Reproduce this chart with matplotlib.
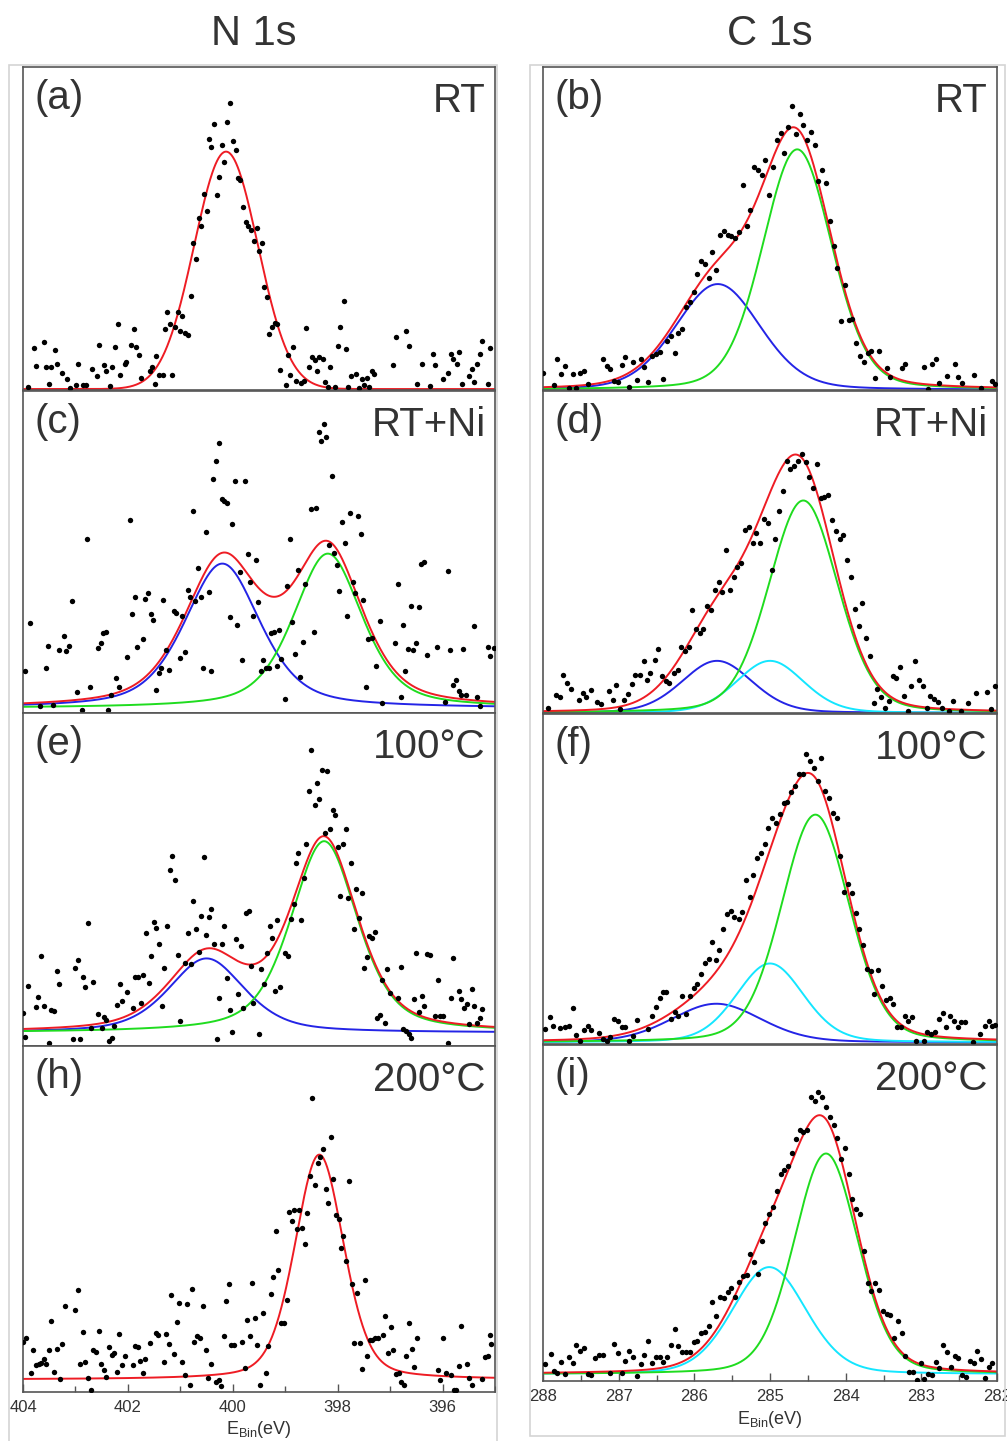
import numpy as np
import matplotlib
matplotlib.use("Agg")
import matplotlib.pyplot as plt
from matplotlib.patches import Rectangle

plt.rcParams['font.family'] = ['Liberation Sans', 'DejaVu Sans']
plt.rcParams['mathtext.fontset'] = 'custom'
plt.rcParams['mathtext.rm'] = 'Liberation Sans'

W, H = 1007, 1441

# ---- measured points (binding energy eV, intensity a.u.) ----
a_pts = [(403.9, 1), (403.8, 13), (403.76, 7.5), (403.6, 15), (403.56, 7), (403.5, 2), (403.46, 7),
         (403.4, 12.5), (403.35, 8), (403.26, 5.4), (403.16, 3.3), (403.1, 0.5), (403.0, 1.5), (402.96, 8),
         (402.86, 1.5), (402.8, 1.5), (402.7, 6.4), (402.6, 4.3), (402.56, 14), (402.46, 7.7), (402.42, 6),
         (402.35, 1.2), (402.31, 7), (402.26, 13.4), (402.2, 20.4), (402.17, 4.7), (402.07, 8), (402.04, 8.8),
         (401.96, 14), (401.9, 19), (401.86, 13.4), (401.8, 10.7), (401.76, 3.8), (401.6, 6), (401.56, 7.2),
         (401.5, 2), (401.47, 10.5), (401.42, 4.5), (401.35, 4.5), (401.3, 19), (401.27, 24), (401.22, 20.3),
         (401.17, 4.5), (401.12, 19.6), (401.06, 24), (401.03, 18.2), (400.98, 22.9), (400.92, 17.5),
         (400.87, 16.9), (400.82, 29), (400.77, 45.6), (400.72, 40.7), (400.67, 53.3), (400.62, 50.7),
         (400.57, 60.8), (400.52, 55.3), (400.47, 77.7), (400.43, 75.3), (400.37, 82.3), (400.33, 60.3),
         (400.28, 66), (400.23, 75.9), (400.18, 70.6), (400.13, 83), (400.08, 88.7), (400.02, 77.2),
         (399.97, 74.4), (399.93, 65.5), (399.88, 65), (399.83, 56.6), (399.78, 52), (399.73, 50.7),
         (399.68, 49.5), (399.62, 46.2), (399.57, 50.1), (399.53, 42.9), (399.47, 45.4), (399.43, 32),
         (399.38, 28.9), (399.33, 17.4), (399.28, 19.5), (399.23, 20.6), (399.18, 20.4), (399.12, 6.2),
         (399.02, 1.5), (398.98, 10.8), (398.93, 4.6), (398.88, 13.4), (398.83, 2.9), (398.73, 2.3),
         (398.68, 2.9), (398.63, 19.3), (398.58, 7.2), (398.52, 10.1), (398.47, 9.3), (398.43, 5.9),
         (398.38, 10.3), (398.32, 9.7), (398.27, 2.4), (398.22, 1), (398.18, 7), (398.08, 1), (398.03, 13.6),
         (397.98, 19.4), (397.92, 27.6), (397.88, 12.7), (397.83, 0.8), (397.78, 4.3), (397.68, 4.8),
         (397.63, 0.5), (397.58, 3.3), (397.53, 1.5), (397.48, 3.8), (397.44, 1), (397.39, 6), (397.34, 4.8),
         (396.98, 7.7), (396.93, 16.5), (396.74, 18.2), (396.69, 13.6), (396.53, 2), (396.44, 8), (396.28, 1.2),
         (396.23, 11.3), (396.18, 7.7), (396.04, 3.4), (395.94, 5.4), (395.89, 11.1), (395.84, 9.5),
         (395.78, 8), (395.73, 11.8), (395.68, 1.9), (395.54, 4.3), (395.49, 6.5), (395.44, 2.6), (395.39, 8.2),
         (395.34, 11.3), (395.29, 15.3), (395.19, 2), (395.14, 13.1)]

c_pts = [(403.97, 13), (403.87, 27.9), (403.67, 2.1), (403.57, 13.9), (403.53, 20.8), (403.43, 2.6),
         (403.32, 19.5), (403.22, 24), (403.18, 19.1), (403.13, 20.8), (403.08, 34.9), (402.97, 6.5),
         (402.88, 1), (402.78, 53.9), (402.73, 8), (402.58, 20.1), (402.53, 21.8), (402.48, 24.7),
         (402.43, 25.3), (402.38, 1), (402.33, 5.5), (402.23, 10.9), (402.18, 8), (402.03, 17.4),
         (401.98, 59.9), (401.93, 30.9), (401.88, 36.1), (401.83, 20.6), (401.73, 22.9), (401.68, 35.4),
         (401.63, 37.2), (401.58, 30.9), (401.53, 28.9), (401.48, 7.1), (401.43, 12.4), (401.38, 13.9),
         (401.34, 35.1), (401.28, 19.7), (401.23, 13.4), (401.14, 31.8), (401.09, 31), (401.03, 17),
         (400.98, 30), (400.93, 18.8), (400.88, 38.2), (400.83, 36.1), (400.78, 62.7), (400.73, 34.9),
         (400.68, 45), (400.63, 36.1), (400.58, 14.1), (400.53, 56.3), (400.48, 37.5), (400.43, 13),
         (400.39, 72.8), (400.34, 78.3), (400.28, 83.9), (400.23, 66.5), (400.18, 65.9), (400.13, 65.3),
         (400.08, 29.9), (400.03, 58.8), (399.98, 72.1), (399.94, 27.3), (399.89, 43.8), (399.84, 16.4),
         (399.79, 71.9), (399.74, 49.5), (399.69, 40.8), (399.64, 30), (399.59, 47.4), (399.54, 34.6),
         (399.49, 13), (399.44, 16.6), (399.39, 14.1), (399.34, 13.9), (399.29, 24.8), (399.24, 25.3),
         (399.19, 14.6), (399.14, 25.9), (399.1, 16.7), (399.04, 4.5), (398.99, 39.5), (398.94, 53.9),
         (398.9, 28.4), (398.84, 18.2), (398.79, 44.3), (398.75, 11.1), (398.7, 22.2), (398.65, 40.1),
         (398.54, 63.4), (398.49, 25.2), (398.44, 63.8), (398.39, 87.4), (398.35, 84.6), (398.3, 89.8),
         (398.25, 85.7), (398.2, 52.3), (398.14, 73.6), (398.1, 49.8), (398.05, 46), (398.0, 37.8),
         (397.95, 59.4), (397.9, 52.8), (397.85, 30.1), (397.8, 62), (397.75, 40.8), (397.7, 37.2),
         (397.64, 61.3), (397.59, 55.6), (397.55, 35.1), (397.5, 8.1), (397.45, 23.1), (397.39, 23.2),
         (397.3, 14.6), (397.24, 28.6), (397.19, 3.1), (396.94, 21.7), (396.89, 40.1), (396.84, 5),
         (396.79, 27.3), (396.75, 12.9), (396.7, 20), (396.65, 33.3), (396.6, 19.7), (396.55, 21.6),
         (396.5, 32.8), (396.45, 46.4), (396.4, 46.9), (396.34, 17.9), (396.15, 20.6), (396.0, 3.3),
         (395.95, 44.1), (395.9, 19.5), (395.85, 8.6), (395.79, 10.3), (395.74, 6.8), (395.69, 5.7),
         (395.65, 19.8), (395.6, 5.5), (395.45, 27.1), (395.39, 4.9), (395.34, 2.1), (395.19, 20.6),
         (395.14, 17.7), (395.07, 20.3)]

e_pts = [(404.0, 9.8), (403.97, 2.8), (403.91, 18), (403.76, 11.7), (403.72, 14.7), (403.66, 26.9),
         (403.61, 12), (403.51, 1), (403.46, 10.7), (403.41, 10.5), (403.36, 22.5), (403.31, 18.7),
         (403.06, 2.2), (403.01, 23.3), (402.96, 25.9), (402.92, 2.2), (402.87, 20.8), (402.82, 17.7),
         (402.77, 36.8), (402.72, 5.5), (402.67, 19.3), (402.57, 9.5), (402.51, 5.5), (402.47, 8.8),
         (402.42, 7.7), (402.37, 1.5), (402.32, 2.5), (402.27, 6), (402.22, 12.4), (402.17, 18.5),
         (402.12, 13.5), (402.02, 16.3), (401.92, 11.3), (401.87, 20.8), (401.82, 20.8), (401.77, 12.8),
         (401.72, 21.2), (401.67, 33.8), (401.62, 19), (401.57, 27.1), (401.52, 37.3), (401.47, 35.4),
         (401.42, 30.5), (401.37, 12), (401.32, 23.4), (401.27, 36.1), (401.22, 52.8), (401.17, 57),
         (401.12, 49.7), (401.07, 27.3), (401.02, 7.5), (400.92, 25), (400.87, 33.9), (400.82, 24.5),
         (400.77, 43.4), (400.72, 35.1), (400.67, 28.1), (400.63, 38.9), (400.57, 56.7), (400.53, 33.3),
         (400.48, 38.6), (400.43, 41.1), (400.38, 30.6), (400.33, 2), (400.28, 14.5), (400.23, 30.6),
         (400.18, 35.9), (400.13, 20.4), (400.08, 10.8), (400.03, 4.2), (399.97, 32.1), (399.92, 15.7),
         (399.87, 29.9), (399.82, 11.3), (399.77, 39.9), (399.72, 40.5), (399.68, 24), (399.63, 13),
         (399.53, 3.5), (399.48, 23.2), (399.43, 18.5), (399.37, 27.9), (399.32, 35.9), (399.28, 32.3),
         (399.23, 16.4), (399.18, 37.9), (399.13, 17.8), (399.03, 27.9), (398.98, 27.1), (398.92, 38.1),
         (398.87, 42.5), (398.82, 55.1), (398.78, 57.9), (398.73, 37.9), (398.68, 50.4), (398.63, 60.8),
         (398.58, 76.6), (398.53, 89), (398.47, 72.3), (398.43, 79), (398.38, 74.1), (398.33, 82.8),
         (398.28, 64.1), (398.23, 82.7), (398.18, 65.3), (398.13, 70.9), (398.08, 69.4), (398.03, 59.8),
         (397.98, 45.1), (397.93, 60.8), (397.88, 65.3), (397.83, 44.5), (397.78, 54.9), (397.73, 35.1),
         (397.68, 47.1), (397.63, 38.3), (397.58, 45.8), (397.53, 23.4), (397.48, 26.6), (397.43, 32.9),
         (397.38, 32.3), (397.33, 34.1), (397.29, 8.3), (397.24, 9.2), (397.19, 19.8), (397.14, 7),
         (397.09, 23), (397.04, 15.8), (396.89, 14.4), (396.84, 23.7), (396.79, 5), (396.74, 4.5),
         (396.69, 3.5), (396.64, 2.5), (396.59, 14), (396.54, 27.8), (396.49, 10.2), (396.44, 15),
         (396.39, 12), (396.34, 27.5), (396.29, 27.3), (396.19, 9), (396.14, 19.8), (396.09, 9), (396.04, 9),
         (395.94, 1), (395.89, 14.4), (395.84, 26.3), (395.74, 16.5), (395.69, 14), (395.64, 11.4),
         (395.59, 12.7), (395.54, 6.7), (395.49, 17.2), (395.44, 12), (395.39, 6.8), (395.34, 8.5),
         (395.29, 11)]

h_pts = [(404.0, 14.5), (403.95, 15.6), (403.85, 5.6), (403.8, 12.2), (403.75, 7.7), (403.7, 8.2),
         (403.65, 8.4), (403.6, 9.6), (403.56, 8.2), (403.51, 12.1), (403.46, 20.4), (403.41, 5.8),
         (403.35, 12.5), (403.3, 3.9), (403.25, 14), (403.2, 25), (403.01, 23.6), (402.96, 29.6),
         (402.91, 8), (402.86, 17.2), (402.81, 8.7), (402.76, 4.1), (402.71, 0.7), (402.66, 12.2),
         (402.61, 11.6), (402.56, 17.6), (402.51, 8.2), (402.46, 6.5), (402.41, 4.3), (402.36, 13),
         (402.31, 10.6), (402.26, 11.4), (402.21, 5.9), (402.16, 16.7), (402.11, 7.7), (402.06, 10.5),
         (401.91, 7.9), (401.86, 13.4), (401.81, 13), (401.76, 9), (401.72, 5.6), (401.67, 9.5),
         (401.57, 14.3), (401.47, 17.1), (401.42, 16.4), (401.32, 8.6), (401.27, 16.9), (401.22, 14),
         (401.17, 27.9), (401.12, 11.1), (401.07, 20.1), (401.02, 25.7), (400.97, 8.6), (400.92, 5),
         (400.87, 25.3), (400.82, 2.1), (400.77, 29.9), (400.73, 14.5), (400.68, 16.2), (400.63, 15.6),
         (400.57, 24.8), (400.52, 12.1), (400.47, 4.1), (400.42, 8.2), (400.32, 2.9), (400.27, 3.4),
         (400.22, 1.6), (400.17, 16.2), (400.12, 26.3), (400.08, 31.1), (400.03, 13.7), (399.97, 13.7),
         (399.82, 14.5), (399.77, 7), (399.72, 20.7), (399.67, 16.2), (399.63, 31.5), (399.58, 21.5),
         (399.53, 13.5), (399.48, 1.9), (399.43, 22.9), (399.37, 5.6), (399.32, 13.3), (399.28, 28.4),
         (399.23, 33.3), (399.18, 46.6), (399.13, 35.2), (399.08, 19.8), (399.03, 20), (398.97, 26.5),
         (398.93, 52), (398.88, 49.4), (398.83, 52.7), (398.78, 47.1), (398.73, 52.7), (398.68, 47.4),
         (398.63, 42.7), (398.58, 51.6), (398.53, 62.4), (398.48, 85), (398.43, 59.7), (398.38, 66.3),
         (398.33, 67.8), (398.28, 70.2), (398.23, 58.6), (398.18, 54.6), (398.13, 73.7), (398.08, 61.5),
         (398.03, 51.3), (397.98, 50.1), (397.93, 41.5), (397.89, 45.2), (397.84, 37.9), (397.79, 61),
         (397.73, 31.1), (397.68, 14.2), (397.63, 28.7), (397.58, 14.2), (397.53, 6.6), (397.48, 32.3),
         (397.44, 10.4), (397.39, 14.9), (397.34, 15.1), (397.29, 15.6), (397.24, 15.6), (397.14, 16.4),
         (397.09, 22.1), (397.04, 11.3), (396.99, 18.8), (396.94, 12.1), (396.89, 5.3), (396.84, 5.6),
         (396.79, 2.9), (396.74, 1.9), (396.69, 10.4), (396.64, 19.8), (396.59, 12.5), (396.54, 7.1),
         (396.49, 15.6), (396.09, 6.5), (396.04, 3.4), (395.99, 15.6), (395.94, 5.6), (395.84, 4.8),
         (395.79, 0.7), (395.74, 0.5), (395.69, 7.5), (395.64, 19), (395.54, 8), (395.49, 4.1),
         (395.44, 1.9), (395.24, 3.7), (395.19, 10.1), (395.14, 10.3), (395.09, 16.4), (395.07, 14)]

b_pts = [(288.0, 5.2), (287.86, 1.5), (287.81, 9.5), (287.76, 4.9), (287.71, 7.4), (287.66, 0.5),
         (287.61, 4.9), (287.56, 0.5), (287.51, 5.4), (287.46, 5.9), (287.41, 1.9), (287.21, 9.5),
         (287.16, 7.5), (287.11, 6.5), (287.06, 2.9), (287.01, 2.4), (286.96, 7.7), (286.91, 10.3),
         (286.86, 0.8), (286.81, 8.8), (286.76, 3.1), (286.71, 9.5), (286.66, 7.2), (286.61, 2.4),
         (286.56, 10.6), (286.51, 11.1), (286.46, 11.9), (286.41, 3.4), (286.36, 15.3), (286.31, 16.7),
         (286.26, 11.6), (286.21, 17.7), (286.16, 18.8), (286.11, 25.7), (286.06, 27.1), (286.01, 30.2),
         (285.96, 35.8), (285.91, 40), (285.86, 39), (285.81, 34.8), (285.76, 42.6), (285.71, 37.1),
         (285.66, 48.1), (285.61, 49.2), (285.56, 48.1), (285.51, 47.6), (285.46, 47.1), (285.41, 48.8),
         (285.36, 63.4), (285.31, 50.7), (285.26, 55.7), (285.21, 68.9), (285.16, 68), (285.11, 66.5),
         (285.06, 71.3), (285.01, 60.3), (284.96, 69.1), (284.91, 77.3), (284.86, 79.6), (284.81, 73.4),
         (284.76, 81.4), (284.71, 87.9), (284.66, 79.4), (284.61, 85.6), (284.56, 82), (284.51, 77.3),
         (284.46, 79.9), (284.41, 76), (284.36, 64.6), (284.31, 68), (284.26, 64.2), (284.21, 52.3),
         (284.16, 44.5), (284.11, 37.9), (284.06, 21.4), (284.01, 32.5), (283.96, 21.6), (283.91, 21.9),
         (283.86, 14.4), (283.81, 10.5), (283.76, 8.8), (283.71, 11.6), (283.66, 12.2), (283.61, 3.8),
         (283.56, 12.2), (283.46, 6.7), (283.41, 3.9), (283.26, 6.7), (283.21, 7.9), (282.96, 7),
         (282.91, 0.2), (282.86, 8), (282.81, 9.6), (282.76, 2.3), (282.66, 4.3), (282.56, 8), (282.51, 3.9),
         (282.46, 2.3), (282.31, 4.6), (282.21, 0.5), (282.06, 2.8), (282.02, 1.9)]

d_pts = [(287.93, 1.6), (287.83, 5.7), (287.78, 4.9), (287.73, 11.7), (287.68, 9.3), (287.63, 7.4),
         (287.52, 4.1), (287.47, 6.2), (287.43, 5), (287.37, 7), (287.28, 3.3), (287.23, 2.9), (287.13, 6.7),
         (287.08, 3.9), (287.03, 8.6), (286.98, 1.2), (286.93, 3.9), (286.88, 6), (286.82, 9.1),
         (286.78, 11.7), (286.72, 11.7), (286.67, 16.3), (286.63, 10.1), (286.58, 12.4), (286.52, 16.5),
         (286.48, 19.9), (286.43, 11.4), (286.37, 9.8), (286.33, 9.3), (286.27, 12.4), (286.22, 13.2),
         (286.18, 20.5), (286.12, 19.3), (286.07, 20.5), (286.03, 32.1), (285.98, 26.1), (285.93, 24.8),
         (285.88, 26.2), (285.83, 33.1), (285.78, 31.9), (285.73, 38.1), (285.68, 40.8), (285.63, 37.7),
         (285.58, 50.5), (285.53, 38.1), (285.48, 42.2), (285.43, 45.3), (285.38, 46.7), (285.33, 56.9),
         (285.28, 57.9), (285.23, 52.9), (285.18, 56), (285.13, 52.9), (285.08, 60.2), (285.03, 58.9),
         (284.98, 44.3), (284.93, 54), (284.88, 62.6), (284.83, 69), (284.78, 78.4), (284.73, 75.8),
         (284.68, 76.7), (284.63, 78.4), (284.58, 80.5), (284.53, 78.1), (284.48, 73.4), (284.43, 69.8),
         (284.38, 77.4), (284.33, 66.7), (284.28, 67.2), (284.23, 67.7), (284.18, 59.8), (284.13, 56.4),
         (284.08, 54.1), (284.03, 55.3), (283.98, 47.6), (283.93, 42.2), (283.88, 32.4), (283.83, 27.1),
         (283.78, 34.1), (283.73, 23.3), (283.68, 17.6), (283.63, 3.1), (283.58, 7.4), (283.53, 4.9),
         (283.48, 1.6), (283.43, 3.6), (283.38, 11.6), (283.33, 10.9), (283.28, 14.3), (283.23, 5.2),
         (283.18, 0.7), (283.13, 8.5), (283.08, 16.2), (283.03, 10.3), (282.98, 8.5), (282.93, 1.6),
         (282.88, 5.2), (282.83, 4.3), (282.78, 3.3), (282.73, 1.6), (282.63, 0.5), (282.58, 3.8),
         (282.48, 0.5), (282.38, 3.1), (282.28, 6.2), (282.13, 6.5), (282.08, 1.3), (282.03, 8.5)]

f_pts = [(287.98, 4.6), (287.91, 8.3), (287.87, 5.4), (287.77, 4.8), (287.71, 5.3), (287.66, 5.6),
         (287.61, 10.9), (287.56, 2.8), (287.51, 1), (287.46, 4.3), (287.41, 5.6), (287.36, 4.3),
         (287.26, 3.2), (287.21, 1.5), (287.16, 1), (287.11, 2), (287.06, 7.6), (287.01, 6.9), (286.96, 5.3),
         (286.91, 5.3), (286.86, 1), (286.81, 2.5), (286.76, 7.3), (286.61, 4.6), (286.56, 8.4),
         (286.51, 11.2), (286.46, 14), (286.41, 15.7), (286.37, 15.9), (286.31, 7.6), (286.26, 9.8),
         (286.22, 8.4), (286.16, 14.4), (286.11, 9.1), (286.06, 14.5), (286.01, 17), (285.96, 18.3),
         (285.91, 21.3), (285.86, 24.4), (285.81, 25.9), (285.76, 30.8), (285.71, 25.4), (285.67, 28.4),
         (285.62, 34.7), (285.57, 39.4), (285.52, 40.3), (285.47, 38.6), (285.41, 37.8), (285.37, 39.9),
         (285.32, 49.7), (285.27, 44.4), (285.22, 51.3), (285.17, 56.5), (285.12, 57.9), (285.07, 60.6),
         (285.02, 65.5), (284.97, 68.5), (284.92, 67), (284.87, 69.8), (284.82, 72.9), (284.77, 73.3),
         (284.72, 76.3), (284.67, 78.2), (284.62, 81.7), (284.57, 81.9), (284.52, 87.8), (284.47, 85.8),
         (284.42, 83.5), (284.37, 79.7), (284.32, 86.8), (284.27, 76.6), (284.22, 74.6), (284.17, 70.1),
         (284.12, 68.5), (284.07, 56.9), (284.02, 46.2), (283.97, 48.5), (283.92, 45.7), (283.87, 39.8),
         (283.82, 34.7), (283.77, 29.9), (283.72, 22.8), (283.67, 22), (283.62, 15.2), (283.57, 22.3),
         (283.52, 17.6), (283.47, 13.2), (283.42, 14), (283.37, 12), (283.32, 5.1), (283.27, 5.3),
         (283.22, 8.6), (283.17, 7.1), (283.12, 8.1), (283.07, 1), (282.97, 1), (282.92, 3.6), (282.87, 3),
         (282.82, 3.6), (282.77, 7.6), (282.72, 9.3), (282.67, 5.3), (282.62, 8.6), (282.57, 7.1),
         (282.52, 5.3), (282.47, 6.6), (282.42, 6.6), (282.32, 0.5), (282.22, 3), (282.16, 5.6),
         (282.11, 7.1), (282.06, 5.6), (282.02, 5.8)]

i_pts = [(287.98, 5), (287.9, 8), (287.86, 3), (287.81, 2.3), (287.76, 5.7), (287.71, 2), (287.66, 7),
         (287.61, 5.3), (287.56, 10.7), (287.51, 9), (287.46, 9.8), (287.41, 2), (287.36, 1.8), (287.31, 6.7),
         (287.26, 7.7), (287.21, 7.8), (287.11, 2.5), (287.06, 11), (287.01, 8.3), (286.96, 2.5), (286.91, 6),
         (286.86, 9), (286.81, 7), (286.76, 1.5), (286.71, 5), (286.66, 7.8), (286.61, 11.8), (286.56, 5.3),
         (286.51, 7.2), (286.46, 7), (286.41, 5.8), (286.36, 7), (286.31, 10.8), (286.26, 15.5),
         (286.21, 10.5), (286.16, 8.7), (286.11, 8.7), (286.06, 8.5), (286.01, 11.7), (285.96, 12),
         (285.91, 14.3), (285.86, 14.5), (285.81, 16.5), (285.76, 23.4), (285.71, 19.4), (285.66, 25.1),
         (285.61, 24.6), (285.56, 26.6), (285.51, 27.6), (285.46, 24.9), (285.41, 29.6), (285.36, 31.3),
         (285.31, 31.6), (285.26, 37.9), (285.21, 35.3), (285.16, 31.9), (285.11, 41.8), (285.06, 47.1),
         (285.01, 49.6), (284.96, 51.7), (284.91, 56.5), (284.86, 61.7), (284.81, 62.7), (284.76, 64),
         (284.71, 68), (284.66, 71.9), (284.61, 74.7), (284.56, 74.2), (284.51, 74.7), (284.46, 84.6),
         (284.41, 83.2), (284.36, 86), (284.31, 84.6), (284.26, 81.4), (284.21, 78.5), (284.16, 76.2),
         (284.11, 72.4), (284.06, 66.2), (284.01, 69.2), (283.96, 61.7), (283.91, 54.2), (283.86, 51.2),
         (283.81, 49.6), (283.76, 38.8), (283.71, 29.1), (283.66, 26.8), (283.61, 29.1), (283.56, 27.1),
         (283.51, 20.8), (283.46, 19.8), (283.41, 19.6), (283.36, 12.8), (283.31, 17.8), (283.26, 14.2),
         (283.21, 7.3), (283.16, 2.7), (283.11, 2.7), (283.06, 0.3), (283.01, 5.3), (282.96, 0.5),
         (282.91, 2.2), (282.86, 1.7), (282.81, 5.8), (282.76, 4), (282.71, 10.7), (282.66, 8.7),
         (282.61, 4.3), (282.56, 7.3), (282.51, 6.7), (282.46, 1.8), (282.41, 1.3), (282.36, 6),
         (282.31, 5.5), (282.26, 9), (282.21, 6.5), (282.16, 1), (282.11, 4.3), (282.06, 5.3)]

# ---- fitted components: (centre eV, height, FWHM eV, Lorentz fraction) ----
a_fit = [(400.15, 73.5, 1.42, 0.0)]
c_blue = (400.22, 44.9, 1.70, 0.5)
c_green = (398.22, 48.0, 1.55, 0.5)
e_blue = (400.52, 22.3, 1.70, 0.5)
e_green = (398.29, 57.5, 1.50, 0.5)
h_fit = [(398.35, 65.0, 1.10, 0.3)]
b_blue = (285.69, 32.8, 1.32, 0.2)
b_green = (284.64, 74.5, 1.08, 0.2)
d_blue = (285.70, 16.2, 1.10, 0.2)
d_cyan = (285.00, 16.2, 1.05, 0.2)
d_green = (284.56, 66.0, 1.08, 0.2)
d_extra = (285.60, 10.5, 1.25, 0.0)   # part of envelope only
f_blue = (285.71, 11.7, 1.40, 0.2)
f_cyan = (285.00, 23.9, 1.05, 0.2)
f_green = (284.40, 69.0, 1.06, 0.2)
i_cyan = (285.01, 31.9, 1.15, 0.2)
i_green = (284.26, 65.7, 1.00, 0.2)

baselines = {'a': 0.3, 'c': 1.5, 'e': 4.0, 'h': 3.6, 'b': 0.0, 'd': 0.0, 'f': 0.5, 'i': 2.0}

RED, GREEN, BLUE, CYAN = '#ee1c24', '#1fdc1f', '#2424e6', '#14e6ff'
TXT = '#333333'


def pv(x, c, h, w, eta):
    r = (x - c) / w
    return h * ((1 - eta) * np.exp(-4 * np.log(2) * r ** 2) + eta / (1 + 4 * r ** 2))


# panel: key, pixel box (l, t, r, b), condition, points, components, hidden
panels = [
    ('a', (23, 67, 495, 390), 'RT', a_pts, [], a_fit),
    ('c', (23, 391, 495, 713), 'RT+Ni', c_pts, [(BLUE, c_blue), (GREEN, c_green)], []),
    ('e', (23, 713, 495, 1046), '100°C', e_pts, [(BLUE, e_blue), (GREEN, e_green)], []),
    ('h', (23, 1046, 495, 1392), '200°C', h_pts, [], h_fit),
    ('b', (543, 67, 997, 390), 'RT', b_pts, [(BLUE, b_blue), (GREEN, b_green)], []),
    ('d', (543, 391, 997, 713), 'RT+Ni', d_pts, [(BLUE, d_blue), (CYAN, d_cyan), (GREEN, d_green)], [d_extra]),
    ('f', (543, 714, 997, 1044), '100°C', f_pts, [(BLUE, f_blue), (CYAN, f_cyan), (GREEN, f_green)], []),
    ('i', (543, 1045, 997, 1381), '200°C', i_pts, [(CYAN, i_cyan), (GREEN, i_green)], []),
]

fig = plt.figure(figsize=(W / 100, H / 100), dpi=100)

# light grey column frames
for x0, y0, x1, y1 in [(9, 65, 497, 1445), (530, 65, 1005, 1436)]:
    fig.patches.append(Rectangle((x0 / W, 1 - y1 / H), (x1 - x0) / W, (y1 - y0) / H,
                                 transform=fig.transFigure, fill=False,
                                 edgecolor='#d4d4d4', lw=1.2, zorder=0))

for xc, title in [(254, 'N 1s'), (770, 'C 1s')]:
    fig.text(xc / W, 1 - 34 / H, title, ha='center', va='center', fontsize=30, color=TXT)

for key, (l, t, r, b), cond, pts, comps, hidden in panels:
    ax = fig.add_axes([l / W, 1 - b / H, (r - l) / W, (b - t) / H])
    n1s = l < 300
    x = np.linspace(404, 395, 600) if n1s else np.linspace(288, 282, 600)
    base = baselines[key]
    env = np.full_like(x, base)
    for col, p in comps:
        y = pv(x, *p)
        env += y
        ax.plot(x, base + y, color=col, lw=1.4, zorder=2)
    for p in hidden:
        env += pv(x, *p)
    ax.plot(x, env, color=RED, lw=1.4, zorder=2.5)

    ev, cts = zip(*pts)
    ax.scatter(ev, cts, s=15, color='black', linewidths=0, zorder=3)

    ax.set_xlim((404, 395.05) if n1s else (288, 282))
    ax.set_ylim(0, 100)
    ax.set_yticks([])
    for s in ax.spines.values():
        s.set_color('#555555')
        s.set_linewidth(1.2)

    ax.text(0.025, 1 - 12 / (b - t), f'({key})', transform=ax.transAxes, ha='left', va='top',
            fontsize=29, color=TXT)
    ax.text(0.98, 1 - 15 / (b - t), cond, transform=ax.transAxes, ha='right', va='top',
            fontsize=29, color=TXT)

    if key in ('h', 'i'):
        if n1s:
            ax.set_xticks([404, 402, 400, 398, 396])
            ax.set_xticks(np.arange(395, 404, 1.0), minor=True)
        else:
            ax.set_xticks([288, 287, 286, 285, 284, 283, 282])
            ax.set_xticks(np.arange(282.5, 288, 1.0), minor=True)
        ax.tick_params(axis='x', which='both', direction='in', color='#555555',
                       labelsize=12, labelcolor=TXT, pad=6)
        ax.tick_params(axis='x', which='major', length=6, width=1.0)
        ax.tick_params(axis='x', which='minor', length=4, width=1.0)
        ax.set_xlabel(r'E$_\mathregular{Bin}$(eV)', fontsize=13, color=TXT, labelpad=3)
    else:
        ax.set_xticks([])

fig.savefig('out.png', dpi=100)
